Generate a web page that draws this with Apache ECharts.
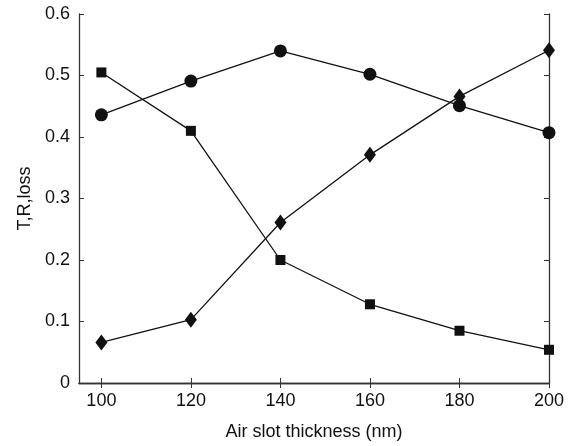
<!DOCTYPE html>
<html>
<head>
<meta charset="utf-8">
<script src="https://cdn.jsdelivr.net/npm/echarts@6/dist/echarts.min.js"></script>
<style>
html, body { margin: 0; padding: 0; background: #fff; }
#chart { width: 577px; height: 446px; }
</style>
</head>
<body>
<div id="chart"></div>
<script>
var thickness = [100, 120, 140, 160, 180, 200];
var xTicks = [100, 120, 140, 160, 180, 200];
var circleVals = [0.436, 0.491, 0.540, 0.502, 0.451, 0.407];
var squareVals = [0.505, 0.410, 0.200, 0.128, 0.085, 0.054];
var diamondVals = [0.066, 0.103, 0.261, 0.371, 0.466, 0.541];

function pairs(vals) {
	var out = [];
	for (var i = 0; i < thickness.length; i++) {
		out.push([thickness[i], vals[i]]);
	}
	return out;
}

var myChart = echarts.init(document.getElementById('chart'));
var font = 'Liberation Sans, Arial, sans-serif';
var axisCol = '#333';

function mkSeries(vals, sym, size) {
	return {
		type: 'line',
		data: pairs(vals),
		symbol: sym,
		symbolSize: size,
		showAllSymbol: true,
		lineStyle: { color: '#111', width: 1.3 },
		itemStyle: { color: '#111' },
		animation: false
	};
}

var option = {
	backgroundColor: '#fff',
	grid: { left: 79, right: 28, top: 14, bottom: 62 },
	xAxis: [{
		type: 'value',
		min: 95,
		max: 200,
		name: 'Air slot thickness (nm)',
		nameLocation: 'middle',
		nameGap: 40,
		nameTextStyle: { fontFamily: font, fontSize: 18, color: '#111' },
		axisLine: { lineStyle: { color: axisCol, width: 1.3 } },
		axisTick: { inside: true, length: 5, customValues: xTicks, lineStyle: { color: axisCol } },
		axisLabel: { fontFamily: font, fontSize: 18, color: '#111', margin: 9, customValues: xTicks },
		splitLine: { show: false }
	}, {
		type: 'value',
		position: 'top',
		min: 95,
		max: 200,
		axisLine: { lineStyle: { color: axisCol, width: 1.3 } },
		axisTick: { inside: true, length: 5, customValues: xTicks, lineStyle: { color: axisCol } },
		axisLabel: { show: false },
		splitLine: { show: false }
	}],
	yAxis: [{
		type: 'value',
		min: 0,
		max: 0.6,
		interval: 0.1,
		name: 'T,R,loss',
		nameLocation: 'middle',
		nameGap: 44,
		nameTextStyle: { fontFamily: font, fontSize: 18, color: '#111' },
		axisLine: { show: true, lineStyle: { color: axisCol, width: 1.3 } },
		axisTick: { inside: true, length: 5, lineStyle: { color: axisCol } },
		axisLabel: {
			fontFamily: font, fontSize: 18, color: '#111', margin: 9,
			formatter: function (v) { return v === 0 ? '0' : v.toFixed(1); }
		},
		splitLine: { show: false }
	}, {
		type: 'value',
		position: 'right',
		min: 0,
		max: 0.6,
		interval: 0.1,
		axisLine: { show: true, lineStyle: { color: axisCol, width: 1.3 } },
		axisTick: { inside: true, length: 5, lineStyle: { color: axisCol } },
		axisLabel: { show: false },
		splitLine: { show: false }
	}],
	series: [
		mkSeries(circleVals, 'circle', 13),
		mkSeries(squareVals, 'rect', 10),
		mkSeries(diamondVals, 'diamond', [12, 16])
	]
};
myChart.setOption(option);
</script>
</body>
</html>
